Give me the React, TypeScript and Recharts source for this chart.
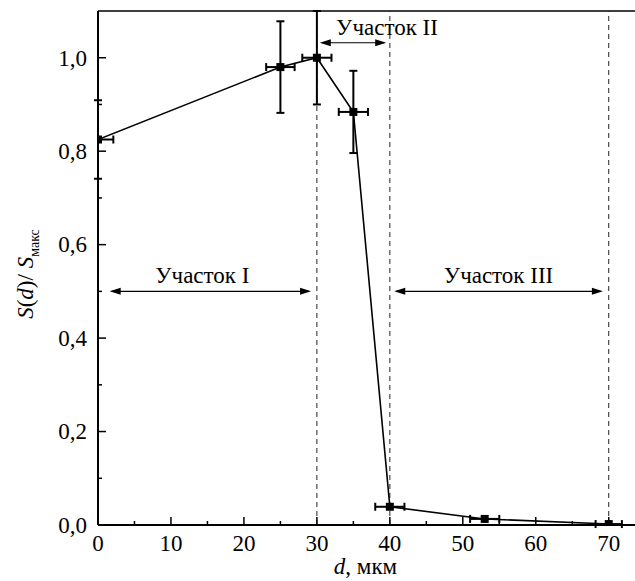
import React from "react";
import { ScatterChart, Scatter, XAxis, YAxis, ErrorBar, ReferenceLine } from "recharts";

// measured points: particle size d (мкм) vs normalised S
const diameters = [0, 25, 30, 35, 40, 53, 70];
const ratios = [0.825, 0.98, 1.0, 0.884, 0.039, 0.013, 0.002];
// x errors as [minus, plus]; the first point is cut by the axis
const diameterErrors = [
  [0, 2.1],
  [1.95, 1.95],
  [2, 2],
  [2, 2],
  [2, 2],
  [2, 2],
  [1.8, 1.8],
];
const ratioErrors = [0.084, 0.098, 0.1, 0.088, 0, 0, 0];

const xTicks = [0, 5, 10, 15, 20, 25, 30, 35, 40, 45, 50, 55, 60, 65, 70];
const yTicks = [0, 0.1, 0.2, 0.3, 0.4, 0.5, 0.6, 0.7, 0.8, 0.9, 1.0];

const boundaries = [30, 40, 70];
const regionNames = ["Участок I", "Участок II", "Участок III"];
const regionStarts = [1.6, 30.4, 40.6];
const regionEnds = [29.2, 39.5, 69.2];
const regionLevels = [0.5, 1.032, 0.5];

const X_DOMAIN = [0, 73.6];
const FONT = "'Liberation Serif', 'DejaVu Serif', 'Times New Roman', serif";
const FONT_SIZE = 23;
const LABEL_DX = [-8, 34, 0];
const textStyle = { fontFamily: FONT, fontSize: FONT_SIZE, fill: "#000" };

const points = diameters.map((d, i) => ({
  d,
  s: ratios[i],
  dErr: diameterErrors[i],
  sErr: ratioErrors[i],
}));

const fmt = (v: number) => v.toFixed(1).replace(".", ",");

function XTick(props: any) {
  const { x, y, payload } = props;
  const v = payload.value as number;
  const major = v % 10 === 0;
  return (
    <g>
      <line x1={x} x2={x} y1={y} y2={y - (major ? 8 : 4)} stroke="#000" strokeWidth={1.5} />
      {major && (
        <text x={x} y={y + 26} textAnchor="middle" style={textStyle}>
          {v}
        </text>
      )}
    </g>
  );
}

function YTick(props: any) {
  const { x, y, payload } = props;
  const v = payload.value as number;
  const major = Math.round(v * 10) % 2 === 0;
  return (
    <g>
      <line x1={x} x2={x + (major ? 8 : 4)} y1={y} y2={y} stroke="#000" strokeWidth={1.5} />
      {major && (
        <text x={x - 11} y={y} dy="0.34em" textAnchor="end" style={textStyle}>
          {fmt(v)}
        </text>
      )}
    </g>
  );
}

// square marker, cut at the left edge of the plot like the original
function Marker(props: any) {
  const { cx, cy, payload } = props;
  const left = payload.d <= X_DOMAIN[0] ? cx : cx - 4;
  return <rect x={left} y={cy - 4} width={cx + 4 - left} height={8} fill="#000" />;
}

function renderYLabel(props: any) {
  const vb = props.viewBox || { x: 38, y: 11, width: 60, height: 514 };
  const cy = vb.y + vb.height / 2 + 6;
  const x = 33;
  return (
    <text x={x} y={cy} transform={`rotate(-90, ${x}, ${cy})`} textAnchor="middle" style={textStyle}>
      <tspan fontStyle="italic">S</tspan>
      <tspan>(</tspan>
      <tspan fontStyle="italic">d</tspan>
      <tspan>)/ </tspan>
      <tspan fontStyle="italic">S</tspan>
      <tspan fontSize={14} dy={6}>
        макс
      </tspan>
    </text>
  );
}

function renderXLabel(props: any) {
  const vb = props.viewBox || { x: 98, y: 525, width: 537, height: 30 };
  const cx = vb.x + vb.width / 2 - 1;
  return (
    <text x={cx} y={574} textAnchor="middle" style={textStyle}>
      <tspan fontStyle="italic">d</tspan>
      <tspan>, мкм</tspan>
    </text>
  );
}

function regionArrow(name: string, dx: number) {
  return (props: any) => {
    const { x1, y1, x2 } = props;
    const head = 11;
    const half = 3.5;
    return (
      <g>
        <line x1={x1 + 2} x2={x2 - 2} y1={y1} y2={y1} stroke="#000" strokeWidth={1.2} />
        <polygon points={`${x1},${y1} ${x1 + head},${y1 - half} ${x1 + head},${y1 + half}`} fill="#000" />
        <polygon points={`${x2},${y1} ${x2 - head},${y1 - half} ${x2 - head},${y1 + half}`} fill="#000" />
        <text x={(x1 + x2) / 2 + dx} y={y1 - 8} textAnchor="middle" style={textStyle}>
          {name}
        </text>
      </g>
    );
  };
}

export default function App() {
  return (
    <div style={{ position: "absolute", left: 0, top: 0, width: 635, height: 581, background: "#fff" }}>
      <ScatterChart width={635} height={581} margin={{ top: 11, right: 0, bottom: 26, left: 38 }}>
        <XAxis
          type="number"
          dataKey="d"
          domain={X_DOMAIN}
          allowDataOverflow
          ticks={xTicks}
          interval={0}
          tickSize={0}
          tickMargin={0}
          tickLine={false}
          tick={<XTick />}
          axisLine={{ stroke: "#000", strokeWidth: 2 }}
          height={30}
          label={renderXLabel}
        />
        <YAxis
          type="number"
          dataKey="s"
          domain={[0, 1.1]}
          allowDataOverflow
          ticks={yTicks}
          interval={0}
          tickSize={0}
          tickMargin={0}
          tickLine={false}
          tick={<YTick />}
          axisLine={{ stroke: "#000", strokeWidth: 2 }}
          width={60}
          label={renderYLabel}
        />
        <ReferenceLine y={1.1} stroke="#000" strokeWidth={1.5} />
        {boundaries.map((b) => (
          <ReferenceLine key={b} x={b} stroke="#222" strokeWidth={1} strokeDasharray="5 4" />
        ))}
        {regionNames.map((name, i) => (
          <ReferenceLine
            key={name}
            segment={[
              { x: regionStarts[i], y: regionLevels[i] },
              { x: regionEnds[i], y: regionLevels[i] },
            ]}
            shape={regionArrow(name, LABEL_DX[i])}
          />
        ))}
        <Scatter
          data={points}
          fill="#000"
          shape={<Marker />}
          line={{ stroke: "#000", strokeWidth: 1.6 }}
          isAnimationActive={false}
        >
          <ErrorBar dataKey="dErr" direction="x" width={4} stroke="#000" strokeWidth={2} />
          <ErrorBar dataKey="sErr" direction="y" width={4} stroke="#000" strokeWidth={2} />
        </Scatter>
      </ScatterChart>
    </div>
  );
}
